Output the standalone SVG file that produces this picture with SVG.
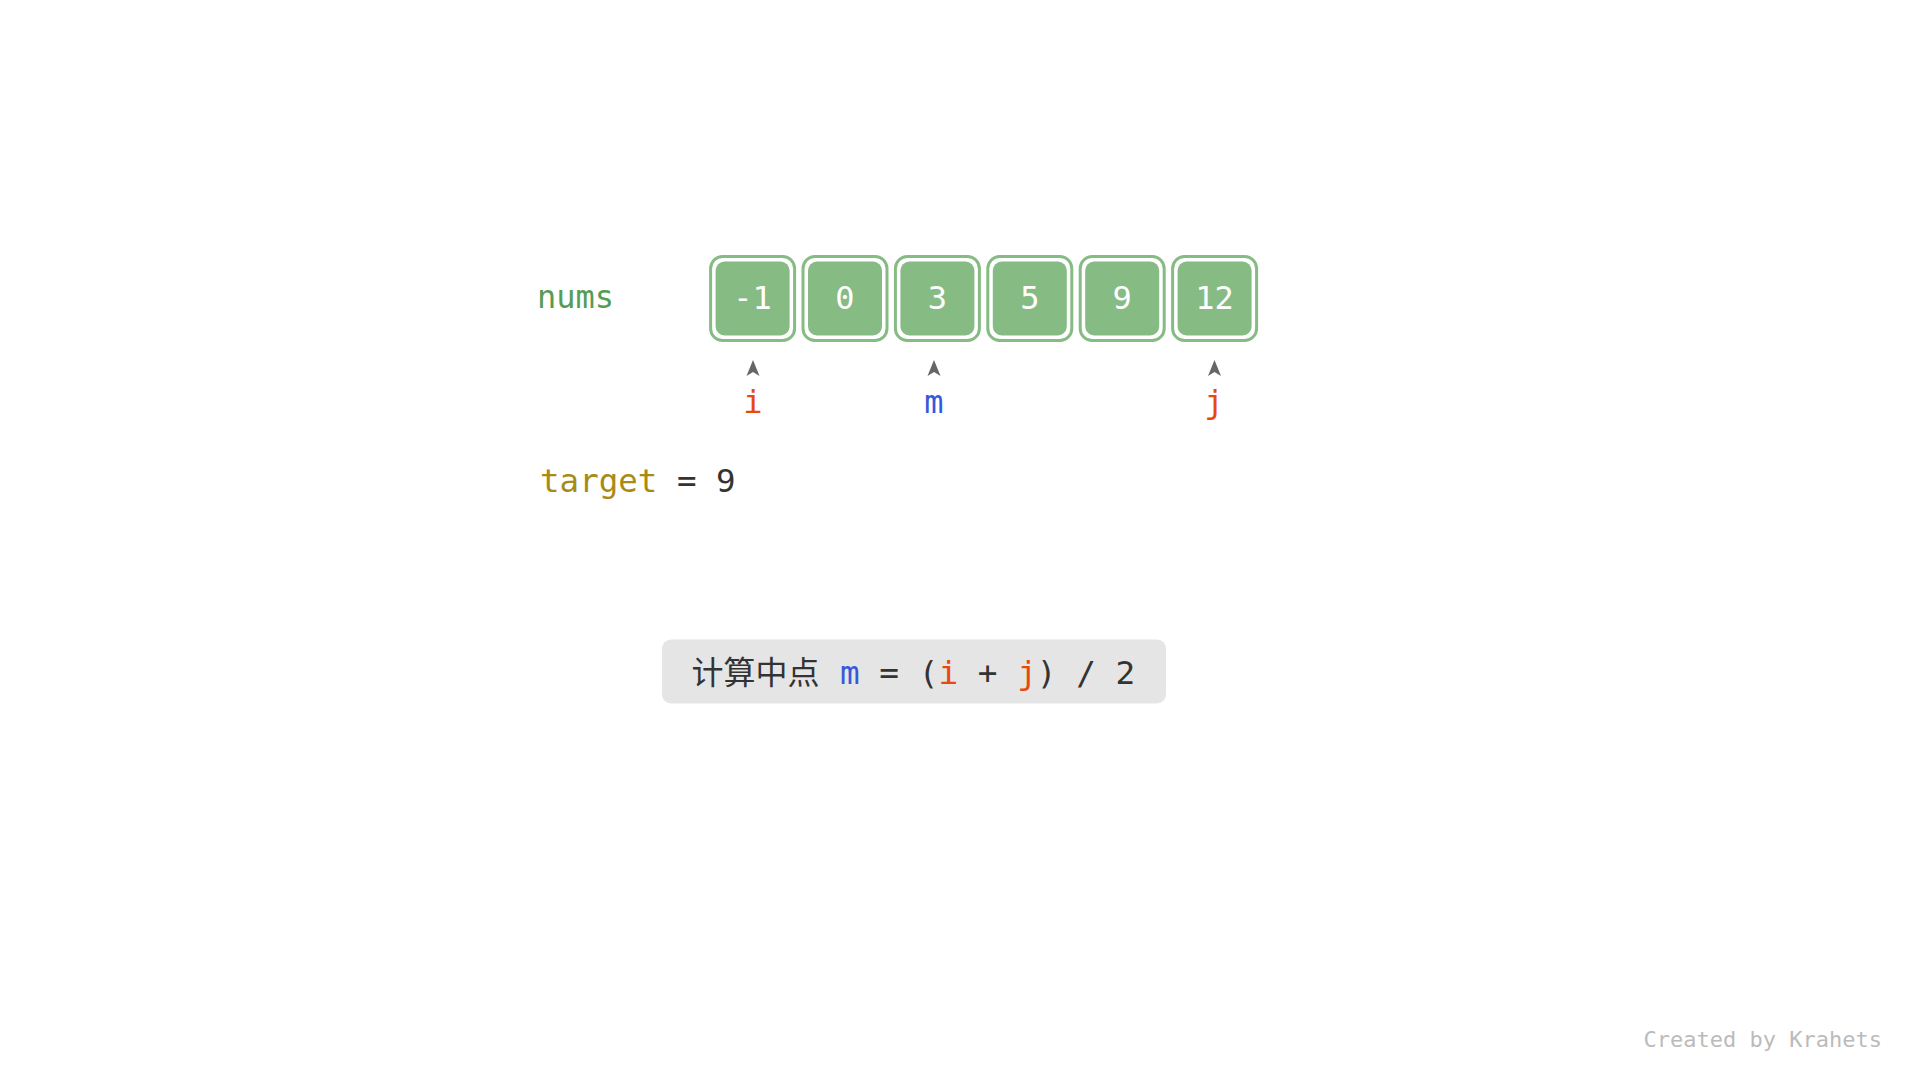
<svg xmlns="http://www.w3.org/2000/svg" width="1920" height="1080" viewBox="0 0 1920 1080">
<defs>
<style>
.mono{font-family:"DejaVu Sans Mono","Liberation Mono","Noto Sans CJK SC",monospace;font-size:32px}
.cjk{font-family:"Noto Sans CJK SC","Noto Sans",sans-serif;font-size:32px}
.outer{fill:#ffffff;stroke:#86BB84;stroke-width:3}
.inner{fill:#86BB84}
.val{fill:#ffffff;text-anchor:middle}
.ptr{text-anchor:middle}
.red{fill:#E8490F}
.blue{fill:#3558DC}
.dark{fill:#333333}
.arrow{fill:#666666}
</style>
<path id="ah" d="M0,0 L6.5,16 L0,12 L-6.5,16 Z"/>
</defs>
<rect width="1920" height="1080" fill="#ffffff"/>
<g id="label-nums"><text class="mono" x="537" y="308" fill="#559D53">nums</text></g>
<g id="n0"><rect class="outer" x="710.6" y="256.5" width="84" height="84" rx="12"/><rect class="inner" x="715.6" y="261.5" width="74" height="74" rx="9"/><text class="mono val" x="752.6" y="309">-1</text></g>
<g id="n1"><rect class="outer" x="803" y="256.5" width="84" height="84" rx="12"/><rect class="inner" x="808" y="261.5" width="74" height="74" rx="9"/><text class="mono val" x="845" y="309">0</text></g>
<g id="n2"><rect class="outer" x="895.4" y="256.5" width="84" height="84" rx="12"/><rect class="inner" x="900.4" y="261.5" width="74" height="74" rx="9"/><text class="mono val" x="937.4" y="309">3</text></g>
<g id="n3"><rect class="outer" x="987.8" y="256.5" width="84" height="84" rx="12"/><rect class="inner" x="992.8" y="261.5" width="74" height="74" rx="9"/><text class="mono val" x="1029.8" y="309">5</text></g>
<g id="n4"><rect class="outer" x="1080.2" y="256.5" width="84" height="84" rx="12"/><rect class="inner" x="1085.2" y="261.5" width="74" height="74" rx="9"/><text class="mono val" x="1122.2" y="309">9</text></g>
<g id="n5"><rect class="outer" x="1172.6" y="256.5" width="84" height="84" rx="12"/><rect class="inner" x="1177.6" y="261.5" width="74" height="74" rx="9"/><text class="mono val" x="1214.6" y="309">12</text></g>
<g id="connectors">
<use href="#ah" class="arrow" x="753" y="360"/>
<use href="#ah" class="arrow" x="934" y="360"/>
<use href="#ah" class="arrow" x="1214.5" y="360"/>
</g>
<g id="ptr-i"><text class="mono ptr red" x="753" y="413">i</text></g>
<g id="ptr-m"><text class="mono ptr blue" x="934" y="413">m</text></g>
<g id="ptr-j"><text class="mono ptr red" x="1214" y="413">j</text></g>
<g id="target"><text class="mono" x="540" y="492" style="font-size:32.5px"><tspan fill="#A88B15">target</tspan><tspan fill="#333333"> = 9</tspan></text></g>
<g id="caption">
<rect x="662" y="639.5" width="504" height="64" rx="9" fill="#E5E5E5"/>
<text class="cjk dark" x="691.5" y="684">计算中点</text>
<text class="mono" x="840" y="684" style="font-size:32.7px"><tspan class="blue">m</tspan><tspan class="dark"> = (</tspan><tspan class="red">i</tspan><tspan class="dark"> + </tspan><tspan class="red">j</tspan><tspan class="dark">) / 2</tspan></text>
</g>
<g id="credit"><text x="1882" y="1047" text-anchor="end" fill="#BBBBBB" style="font-family:'DejaVu Sans Mono','Liberation Mono',monospace;font-size:22px">Created by Krahets</text></g>
</svg>
